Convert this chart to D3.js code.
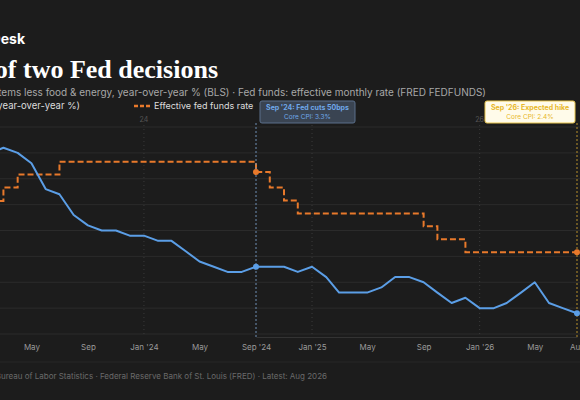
<!DOCTYPE html>
<html><head><meta charset="utf-8">
<script src="https://cdn.jsdelivr.net/npm/d3@7"></script>
<style>body{margin:0;background:#1c1c1c;overflow:hidden}</style>
</head><body><svg id="c"></svg>
<script>
// monthly, Jan 2023 .. Aug 2026
const months = d3.timeMonths(new Date(2023, 0, 1), new Date(2026, 8, 1));
const coreCpi = [5.6,5.5,5.6,5.5,5.3,4.8,4.7,4.3,4.1,4.0,4.0,3.9,
  3.9,3.8,3.8,3.6,3.4,3.3,3.2,3.2,3.3,3.3,3.3,3.2,
  3.3,3.1,2.8,2.8,2.8,2.9,3.1,3.1,3.0,2.8,2.6,2.7,
  2.5,2.5,2.6,2.8,3.0,2.6,2.5,2.4];
const fedFunds = [4.33,4.57,4.83,5.08,5.08,5.08,5.33,5.33,5.33,5.33,5.33,5.33,
  5.33,5.33,5.33,5.33,5.33,5.33,5.33,5.33,5.13,4.83,4.58,4.33,
  4.33,4.33,4.33,4.33,4.33,4.33,4.33,4.33,4.08,3.83,3.83,3.58,
  3.58,3.58,3.58,3.58,3.58,3.58,3.58,3.58];
const yTicks = [2,2.5,3,3.5,4,4.5,5,5.5,6];
const xTickDates = [[2023,4],[2023,8],[2024,0],[2024,4],[2024,8],[2025,0],[2025,4],[2025,8],[2026,0],[2026,4],[2026,7]];
const xTickLabels = ["May","Sep","Jan '24","May","Sep '24","Jan '25","May","Sep","Jan '26","May","Aug"];
const yearMarks = [[2024,"24"],[2025,"25"],[2026,"26"]];

const W = 580, H = 400;
const svg = d3.select("#c").attr("width", W).attr("height", H);
svg.append("rect").attr("width", W).attr("height", H).attr("fill", "#1c1c1c");

const x = d3.scaleTime().domain([new Date(2024, 8, 1), new Date(2026, 7, 1)]).range([256, 577]);
const y = d3.scaleLinear().domain([2, 6]).range([334, 127]);
const plotTop = 113, plotBottom = 337;

// header (left part falls outside the frame)
svg.append("text").attr("x", 25).attr("y", 44).attr("text-anchor", "end")
  .attr("fill", "#fff").attr("font-family", "Inter, sans-serif").attr("font-weight", 700)
  .attr("font-size", 14).text("The Macro Desk");
svg.append("text").attr("x", 218).attr("y", 78).attr("text-anchor", "end")
  .attr("fill", "#fff").attr("font-family", "'Liberation Serif', 'DejaVu Serif', serif").attr("font-weight", 700)
  .attr("font-size", 26).text("A tale of two Fed decisions");
svg.append("text").attr("x", 486).attr("y", 96).attr("text-anchor", "end")
  .attr("fill", "#a8a8a8").attr("font-family", "Inter, sans-serif").attr("font-size", 10)
  .text("Core CPI: all items less food & energy, year-over-year % (BLS) · Fed funds: effective monthly rate (FRED FEDFUNDS)");
// legend
svg.append("text").attr("x", 80).attr("y", 109).attr("text-anchor", "end")
  .attr("fill", "#ddd").attr("font-family", "Inter, sans-serif").attr("font-size", 9.5)
  .text("Core CPI (year-over-year %)");
svg.append("line").attr("x1", 134).attr("x2", 150).attr("y1", 106).attr("y2", 106)
  .attr("stroke", "#e8792b").attr("stroke-width", 2.5).attr("stroke-dasharray", "4,2");
svg.append("text").attr("x", 154).attr("y", 109)
  .attr("fill", "#ddd").attr("font-family", "Inter, sans-serif").attr("font-size", 9)
  .text("Effective fed funds rate");

// grid
svg.append("g").selectAll("line").data(yTicks).join("line")
  .attr("x1", 0).attr("x2", W).attr("y1", d => y(d)).attr("y2", d => y(d))
  .attr("stroke", "#2b2b2b").attr("stroke-width", 1);
const ym = svg.append("g");
ym.selectAll("line").data(yearMarks).join("line")
  .attr("x1", d => x(new Date(d[0], 0, 1))).attr("x2", d => x(new Date(d[0], 0, 1)))
  .attr("y1", plotTop + 8).attr("y2", plotBottom)
  .attr("stroke", "#3a3a3a").attr("stroke-dasharray", "1,3");
ym.selectAll("text").data(yearMarks).join("text")
  .attr("x", d => x(new Date(d[0], 0, 1))).attr("y", 122).attr("text-anchor", "middle")
  .attr("fill", "#555").attr("font-family", "Inter, sans-serif").attr("font-size", 7).text(d => d[1]);

// x axis
const xAxis = svg.append("g").attr("transform", `translate(0,${plotBottom})`)
  .call(d3.axisBottom(x).tickValues(xTickDates.map(d => new Date(d[0], d[1], 1)))
    .tickFormat((d, i) => xTickLabels[i]).tickSize(0).tickPadding(7));
xAxis.select(".domain").attr("stroke", "#333");
xAxis.selectAll("text").attr("fill", "#9a9a9a").attr("font-family", "Inter, sans-serif").attr("font-size", 8);
svg.append("line").attr("x1", 0).attr("x2", W).attr("y1", 362).attr("y2", 362).attr("stroke", "#262626");

// series
const rows = months.map((m, i) => ({m, cpi: coreCpi[i], ff: fedFunds[i]}));
svg.append("path").datum(rows)
  .attr("d", d3.line().x(d => x(d.m)).y(d => y(d.ff)).curve(d3.curveStepAfter))
  .attr("fill", "none").attr("stroke", "#e8792b").attr("stroke-width", 2).attr("stroke-dasharray", "6,3");
svg.append("path").datum(rows)
  .attr("d", d3.line().x(d => x(d.m)).y(d => y(d.cpi)))
  .attr("fill", "none").attr("stroke", "#5b9ee6").attr("stroke-width", 2).attr("stroke-linejoin", "round");

// annotations
function marker(idx, lineColor, boxFill, boxStroke, textColor, l1, l2, bx, bw) {
  const r = rows[idx], px = x(r.m);
  svg.append("line").attr("x1", px).attr("x2", px).attr("y1", 123).attr("y2", plotBottom)
    .attr("stroke", lineColor).attr("stroke-dasharray", "2,2").attr("stroke-width", 1);
  svg.append("circle").attr("cx", px).attr("cy", y(r.ff)).attr("r", 3).attr("fill", "#e8792b");
  svg.append("circle").attr("cx", px).attr("cy", y(r.cpi)).attr("r", 3).attr("fill", "#5b9ee6");
  svg.append("rect").attr("x", bx).attr("y", 101).attr("width", bw).attr("height", 22).attr("rx", 2)
    .attr("fill", boxFill).attr("stroke", boxStroke);
  svg.append("text").attr("x", bx + bw / 2).attr("y", 110).attr("text-anchor", "middle")
    .attr("fill", textColor).attr("font-family", "Inter, sans-serif").attr("font-weight", 700)
    .attr("font-size", 7).text(l1);
  svg.append("text").attr("x", bx + bw / 2).attr("y", 119).attr("text-anchor", "middle")
    .attr("fill", textColor).attr("font-family", "Inter, sans-serif").attr("font-size", 6.5).text(l2);
}
marker(20, "#6f8fb5", "#3a4452", "#5a6f8a", "#6fa8ea", "Sep '24: Fed cuts 50bps", "Core CPI: 3.3%", 260, 95);
marker(43, "#b8902a", "#fffbea", "#e8c44a", "#e8b82a", "Sep '26: Expected hike", "Core CPI: 2.4%", 485, 90);

// footer
svg.append("text").attr("x", 327).attr("y", 379).attr("text-anchor", "end")
  .attr("fill", "#6a6a6a").attr("font-family", "Inter, sans-serif").attr("font-size", 8)
  .text("Sources: U.S. Bureau of Labor Statistics · Federal Reserve Bank of St. Louis (FRED) · Latest: Aug 2026");
</script></body></html>
